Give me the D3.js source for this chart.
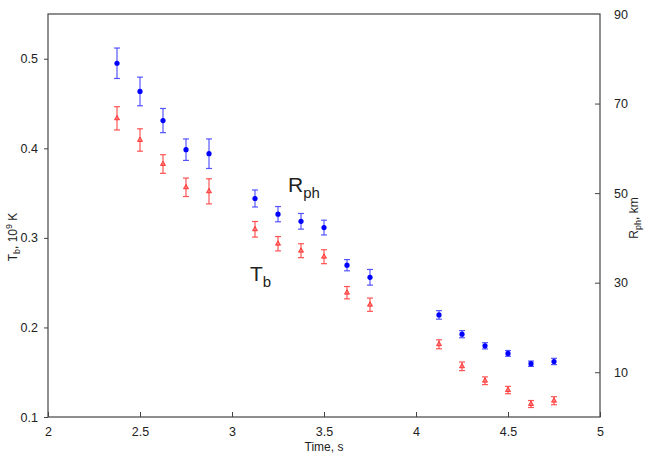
<!DOCTYPE html>
<html><head><meta charset="utf-8">
<script src="https://cdn.jsdelivr.net/npm/d3@7"></script>
<style>body{margin:0;background:#fff}svg{display:block}text{font-family:"Liberation Sans",Arial,sans-serif;fill:#222}</style>
</head><body><svg id="c" width="650" height="455"></svg>
<script>
const times = [2.375,2.5,2.625,2.75,2.875,3.125,3.25,3.375,3.5,3.625,3.75,4.125,4.25,4.375,4.5,4.625,4.75];
const rph = [79.0,72.7,66.2,59.7,58.8,48.8,45.3,43.7,42.3,33.9,31.2,22.8,18.5,15.9,14.2,11.9,12.4];
const rphErr = [3.4,3.2,2.7,2.4,3.3,1.9,1.7,1.75,1.65,1.25,1.75,0.95,0.8,0.7,0.65,0.6,0.7];
const tb = [0.4335,0.4093,0.3825,0.3565,0.352,0.3096,0.2935,0.2857,0.279,0.2388,0.2254,0.1812,0.1566,0.1405,0.1301,0.1145,0.1182];
const tbErr = [0.013,0.0125,0.0104,0.0103,0.014,0.0087,0.008,0.0078,0.0078,0.0069,0.0074,0.005,0.0048,0.0043,0.0041,0.0039,0.0045];
const xTicks = [2,2.5,3,3.5,4,4.5,5];
const yLeftTicks = [0.1,0.2,0.3,0.4,0.5];
const yRightTicks = [10,30,50,70,90];

const svg = d3.select("#c");
const L=48,R=600,T=14,B=417;
const x = d3.scaleLinear().domain([2,5]).range([L,R]);
const yL = d3.scaleLinear().domain([0.1,0.55]).range([B,T]);
const yR = d3.scaleLinear().domain([0,90]).range([B,T]);
const axisColor="#444";

// frame
svg.append("rect").attr("x",L).attr("y",T).attr("width",R-L).attr("height",B-T)
  .attr("fill","none").attr("stroke",axisColor).attr("stroke-width",1.2);

// bottom axis (ticks inward)
const gx = svg.append("g").attr("transform",`translate(0,${B})`)
  .call(d3.axisBottom(x).tickValues(xTicks).tickSize(-5).tickPadding(10).tickFormat(d3.format("")));
gx.select(".domain").remove();
gx.selectAll("line").attr("stroke",axisColor);
gx.selectAll("text").attr("font-size",12.5).style("fill","#222");

// left axis (ticks outward)
const gl = svg.append("g").attr("transform",`translate(${L},0)`)
  .call(d3.axisLeft(yL).tickValues(yLeftTicks).tickSize(4).tickPadding(6).tickFormat(d3.format(".1f")));
gl.select(".domain").remove();
gl.selectAll("line").attr("stroke",axisColor);
gl.selectAll("text").attr("font-size",12.5).style("fill","#222");

// right axis (ticks inward)
const gr = svg.append("g").attr("transform",`translate(${R},0)`)
  .call(d3.axisRight(yR).tickValues(yRightTicks).tickSize(-5).tickPadding(14).tickFormat(d3.format("d")));
gr.select(".domain").remove();
gr.selectAll("line").attr("stroke",axisColor).filter(d=>d===90).remove();
gr.selectAll("text").attr("font-size",12.5).style("fill","#222");

// axis titles
svg.append("text").attr("x",(L+R)/2).attr("y",451).attr("text-anchor","middle").attr("font-size",12).text("Time, s");
const tl = svg.append("text").attr("transform","translate(17,237) rotate(-90)").attr("text-anchor","middle").attr("font-size",12);
tl.append("tspan").text("T");
tl.append("tspan").attr("font-size",9).attr("dy",3).text("b");
tl.append("tspan").attr("dy",-3).text(", 10");
tl.append("tspan").attr("font-size",9).attr("dy",-5).text("9");
tl.append("tspan").attr("dy",5).text(" K");
const tr = svg.append("text").attr("transform","translate(638,218) rotate(-90)").attr("text-anchor","middle").attr("font-size",12);
tr.append("tspan").text("R");
tr.append("tspan").attr("font-size",9).attr("dy",3).text("ph");
tr.append("tspan").attr("dy",-3).text(", km");

// error bars helper
function errBars(vals, errs, ys, color){
  const g = svg.append("g").attr("stroke",color).attr("stroke-width",1.2).attr("stroke-opacity",0.85);
  vals.forEach((v,i)=>{
    const cx=x(times[i]), y1=ys(v+errs[i]), y2=ys(v-errs[i]);
    g.append("line").attr("x1",cx).attr("x2",cx).attr("y1",y1).attr("y2",y2);
    g.append("line").attr("x1",cx-3).attr("x2",cx+3).attr("y1",y1).attr("y2",y1);
    g.append("line").attr("x1",cx-3).attr("x2",cx+3).attr("y1",y2).attr("y2",y2);
  });
}
errBars(tb,tbErr,yL,"#ff3a3a");
errBars(rph,rphErr,yR,"#3a3aff");

// markers
svg.append("g").selectAll("path").data(tb).join("path")
  .attr("d",d3.symbol(d3.symbolTriangle,11))
  .attr("transform",(d,i)=>`translate(${x(times[i])},${yL(d)})`)
  .attr("fill","#ff7777").attr("stroke","#ff2222").attr("stroke-width",0.8);
svg.append("g").selectAll("circle").data(rph).join("circle")
  .attr("cx",(d,i)=>x(times[i])).attr("cy",d=>yR(d)).attr("r",2.6).attr("fill","#0000ff");

// in-plot labels
const lr = svg.append("text").attr("x",288).attr("y",192).attr("font-size",21);
lr.append("tspan").text("R");
lr.append("tspan").attr("font-size",15).attr("dy",6).text("ph");
const lt = svg.append("text").attr("x",250).attr("y",281).attr("font-size",21);
lt.append("tspan").text("T");
lt.append("tspan").attr("font-size",15).attr("dy",6).text("b");
</script></body></html>
